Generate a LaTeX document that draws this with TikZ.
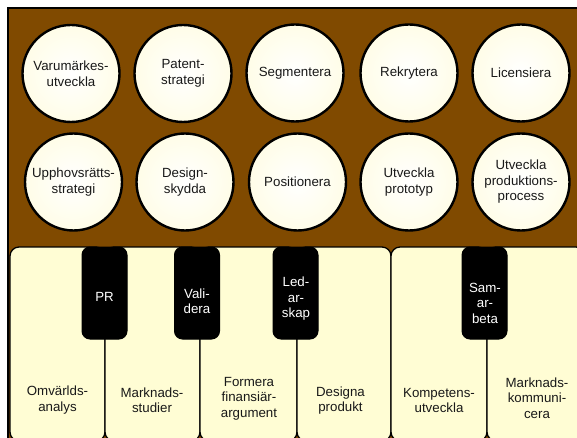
\documentclass[tikz,border=0pt]{standalone}
\usepackage{fontspec}
\setmainfont{Liberation Sans}
\definecolor{wood}{RGB}{128,74,0}
\definecolor{cream}{RGB}{255,253,212}
\definecolor{creamc}{RGB}{255,251,208}
\definecolor{ink}{RGB}{25,25,25}
\pgfdeclareradialshading{circshade}{\pgfpoint{0bp}{0bp}}{color(0bp)=(white); color(30bp)=(creamc!60!white); color(50bp)=(creamc)}
\begin{document}
\begin{tikzpicture}[x=1pt,y=-1pt,
  txt/.style={font=\fontsize{13.3}{15.5}\selectfont, align=center, inner sep=0pt},
  circ/.style={circle, draw=black, line width=2.4pt, minimum size=97pt, inner sep=0pt,
    shading=circshade, txt, text=ink},
  wkey/.style={draw=black, line width=1.3pt, fill=cream, rounded corners=9pt},
  bkey/.style={draw=black, line width=1pt, fill=black, rounded corners=8pt},
  wtext/.style={txt, text=ink},
  btext/.style={txt, text=white}]
\useasboundingbox (0,0) rectangle (577,438);
\clip (0,0) rectangle (577,438);
% frame
\draw[line width=2.7pt, fill=wood] (8,8) rectangle (620,480);
% circles row 1
\node[circ] (c11) at (71,73.5) {Varumärkes-\\utveckla};
\node[circ] (c12) at (183,73.5) {Patent-\\strategi};
\node[circ] (c13) at (295,73) {Segmentera};
\node[circ] (c14) at (409,73) {Rekrytera};
\node[circ] (c15) at (521,73) {Licensiera};
% circles row 2
\node[circ] (c21) at (73.5,182) {Upphovsrätts-\\strategi};
\node[circ] (c22) at (185,182) {Design-\\skydda};
\node[circ] (c23) at (297.5,182) {Positionera};
\node[circ] (c24) at (409,182) {Utveckla\\prototyp};
\node[circ] (c25) at (521,182) {Utveckla\\produktions-\\process};
% white keys
\draw[wkey] (10,247) rectangle (105,441) coordinate (k1);
\draw[wkey] (105,247) rectangle (200,441) coordinate (k2);
\draw[wkey] (200,247) rectangle (297,441) coordinate (k3);
\draw[wkey] (297,247) rectangle (391,441) coordinate (k4);
\draw[wkey] (391,247) rectangle (487,441) coordinate (k5);
\draw[wkey] (487,247) rectangle (585,441) coordinate (k6);
% black keys
\node[bkey, minimum width=45pt, minimum height=92pt] (b1) at (104.5,293) {};
\node[bkey, minimum width=45pt, minimum height=92pt] (b2) at (197,293) {};
\node[bkey, minimum width=45pt, minimum height=92pt] (b3) at (295.5,293) {};
\node[bkey, minimum width=45pt, minimum height=92pt] (b4) at (484.5,293) {};
% black key labels
\node[btext] (tb1) at (104.5,297) {PR};
\node[btext] (tb2) at (197,301) {Vali-\\dera};
\node[btext] (tb3) at (296,299) {Led-\\ar-\\skap};
\node[btext] (tb4) at (485,303) {Sam-\\ar-\\beta};
% white key labels
\node[wtext] (tw1) at (57.5,400) {Omvärlds-\\analys};
\node[wtext] (tw2) at (152,400) {Marknads-\\studier};
\node[wtext] (tw3) at (249,398.5) {Formera\\finansiär-\\argument};
\node[wtext] (tw4) at (340.5,400.5) {Designa\\produkt};
\node[wtext] (tw5) at (439,400.5) {Kompetens-\\utveckla};
\node[wtext] (tw6) at (537,398) {Marknads-\\kommuni-\\cera};
\end{tikzpicture}
\end{document}
